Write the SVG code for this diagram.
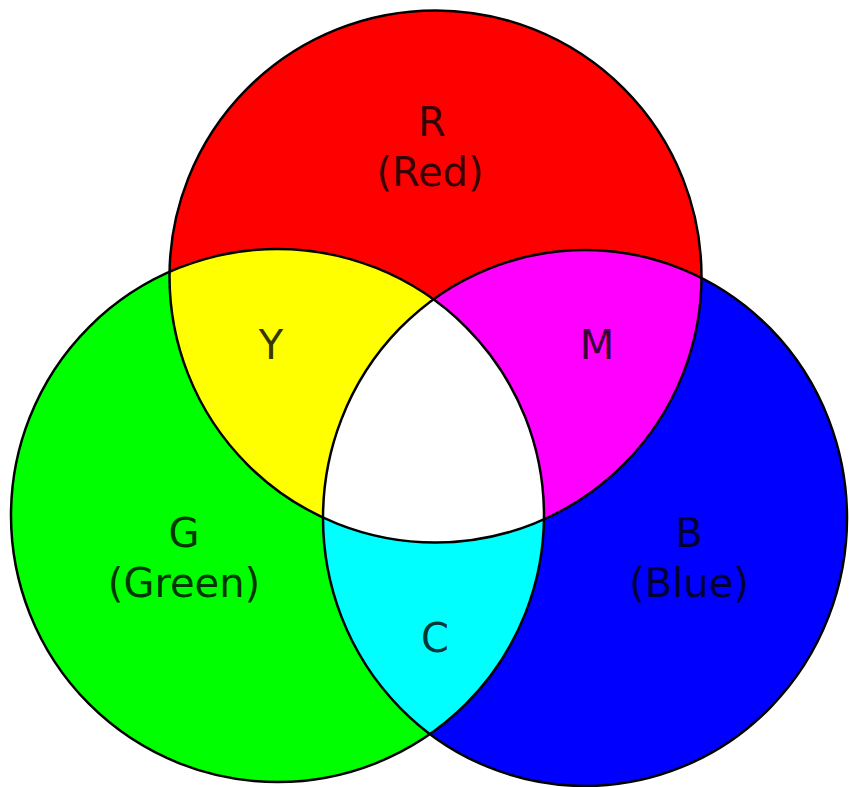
<svg xmlns="http://www.w3.org/2000/svg" width="849" height="787" viewBox="0 0 849 787">
<style>
.lbl{font-family:"DejaVu Sans",Verdana,sans-serif;font-size:40px;fill:#000;fill-opacity:0.8;text-anchor:middle}
.edge{fill:none;stroke:#000;stroke-width:2.5}
</style>
<defs>
<circle id="cR" cx="435.5" cy="276.5" r="266"/>
<circle id="cG" cx="277.5" cy="515.5" r="266.5"/>
<ellipse id="cB" cx="585" cy="518" rx="262" ry="268"/>
<clipPath id="clipG"><use href="#cG"/></clipPath>
<clipPath id="clipB"><use href="#cB"/></clipPath>
<clipPath id="clipGB" clip-path="url(#clipG)"><use href="#cB"/></clipPath>
</defs>
<rect width="849" height="787" fill="#fff"/>
<g id="red"><use href="#cR" fill="#ff0000"/></g>
<g id="green"><use href="#cG" fill="#00ff00"/></g>
<g id="blue"><use href="#cB" fill="#0000ff"/></g>
<g id="yellow"><use href="#cR" fill="#ffff00" clip-path="url(#clipG)"/></g>
<g id="magenta"><use href="#cR" fill="#ff00ff" clip-path="url(#clipB)"/></g>
<g id="cyan"><use href="#cG" fill="#00ffff" clip-path="url(#clipB)"/></g>
<g id="white"><use href="#cR" fill="#ffffff" clip-path="url(#clipGB)"/></g>
<g id="outlines">
<use href="#cR" class="edge"/>
<use href="#cG" class="edge"/>
<use href="#cB" class="edge"/>
</g>
<g id="labels">
<text class="lbl" x="432" y="136">R</text>
<text class="lbl" x="430" y="186">(Red)</text>
<text class="lbl" x="184" y="547">G</text>
<text class="lbl" x="184" y="597">(Green)</text>
<text class="lbl" x="689" y="547">B</text>
<text class="lbl" x="689" y="597">(Blue)</text>
<text class="lbl" x="271" y="359">Y</text>
<text class="lbl" x="597" y="359">M</text>
<text class="lbl" x="435" y="652">C</text>
</g>
</svg>
